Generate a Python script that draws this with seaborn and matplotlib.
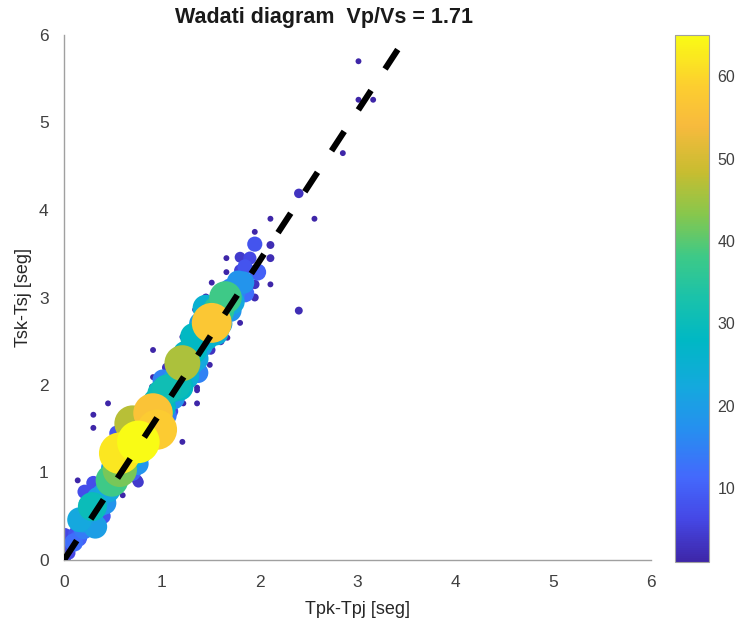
import numpy as np
import pandas as pd
import matplotlib
matplotlib.use("Agg")
import matplotlib.pyplot as plt
from matplotlib.colors import LinearSegmentedColormap, Normalize
from matplotlib.cm import ScalarMappable
import seaborn as sns

# Wadati pairs: S-S time difference vs P-P time difference, with how many
# station pairs fall on each point
tp_diff = [
    3.01, 3.01, 3.16, 2.85, 2.40, 2.11, 2.56, 1.95, 1.95, 2.11, 2.11, 1.80,
    2.11, 1.95, 1.95, 2.40, 1.83, 1.98, 1.66, 1.66, 1.80, 1.51, 1.65, 1.78,
    1.65, 1.58, 1.51, 1.34, 1.80, 1.33, 1.45, 1.67, 1.21, 1.21, 1.32, 1.49,
    0.91, 0.91, 1.36, 1.01, 1.37, 1.10, 0.76, 0.57, 0.91, 0.95, 0.70, 0.49,
    0.57, 0.29, 0.16, 0.32, 0.01, 0.06, 0.01, 0.21, 0.30, 0.76, 0.45, 0.30,
    0.30, 0.60, 0.14, 1.22, 1.21, 0.90, 1.36, 1.36, 0.54, 0.60, 0.47, 0.75,
    0.10, 0.20, 0.40, 0.38, 0.45, 0.65, 0.70, 0.85, 1.00, 1.05, 1.15, 1.25,
    1.30, 1.40, 1.45, 1.60, 1.70, 1.75, 1.85, 1.90, 0.25, 0.12, 0.05, 0.55,
    0.70, 0.40, 0.80, 1.10, 1.00, 0.20, 0.35, 0.50, 1.05, 1.50, 1.60, 0.85,
    1.15, 1.45, 1.55,
    0.95, 1.05, 1.12, 1.25, 1.35, 1.40, 1.55, 1.70, 1.72, 1.85, 0.35, 0.42,
    0.20, 0.15, 0.30, 0.60, 0.50, 0.75, 0.85, 0.70, 0.82, 1.05, 1.00, 1.12,
    1.18, 0.98,
]
ts_diff = [
    5.70, 5.26, 5.26, 4.65, 4.19, 3.90, 3.90, 3.75, 3.61, 3.60, 3.45, 3.46,
    3.15, 3.15, 3.00, 2.85, 3.17, 3.29, 3.45, 3.29, 3.31, 3.17, 3.09, 3.18,
    3.00, 2.85, 2.71, 2.86, 2.71, 2.55, 2.88, 2.54, 2.55, 2.25, 2.40, 2.23,
    2.40, 2.09, 1.97, 2.06, 2.14, 1.95, 1.35, 1.22, 1.68, 1.49, 1.56, 0.91,
    1.03, 0.61, 0.46, 0.38, 0.29, 0.15, 0.02, 0.78, 0.88, 0.89, 1.79, 1.66,
    1.51, 1.66, 0.91, 1.79, 1.35, 1.98, 1.94, 1.79, 1.45, 0.74, 0.69, 0.91,
    0.20, 0.35, 0.75, 0.62, 0.80, 1.10, 1.20, 1.45, 1.75, 1.85, 2.00, 2.10,
    2.25, 2.45, 2.55, 2.70, 2.85, 3.05, 3.35, 3.45, 0.55, 0.30, 0.08, 0.95,
    1.00, 0.50, 1.20, 1.70, 1.55, 0.65, 0.45, 1.10, 2.20, 2.40, 2.50, 1.75,
    2.35, 3.00, 2.95,
    1.80, 1.95, 1.85, 2.35, 2.30, 2.70, 2.60, 3.10, 2.95, 3.05, 0.70, 0.65,
    0.45, 0.25, 0.45, 1.15, 1.05, 1.10, 1.30, 1.45, 1.62, 1.65, 1.90, 2.05,
    1.98, 1.60,
]
n_pairs = [
    1, 1, 1, 1, 3, 1, 1, 1, 8, 2, 2, 4,
    1, 3, 2, 2, 18, 10, 1, 1, 5, 1, 10, 18,
    38, 35, 57, 1, 1, 28, 25, 1, 1, 46, 28, 1,
    1, 1, 1, 15, 15, 26, 65, 62, 56, 58, 47, 38,
    42, 30, 22, 20, 6, 6, 5, 7, 7, 4, 1, 1,
    1, 1, 1, 1, 1, 1, 1, 1, 8, 1, 2, 4,
    12, 14, 18, 15, 22, 20, 24, 25, 28, 18, 30, 24,
    22, 20, 26, 20, 18, 15, 8, 6, 16, 8, 6, 12,
    10, 8, 10, 6, 10, 3, 3, 2, 3, 3, 2, 3,
    2, 2, 3,
    29, 31, 18, 27, 22, 20, 24, 15, 22, 12, 20, 18,
    20, 10, 15, 26, 20, 18, 15, 22, 25, 14, 30, 20,
    28, 24,
]
vp_vs = 1.71
axis_ticks = [0, 1, 2, 3, 4, 5, 6]
cbar_ticks = [10, 20, 30, 40, 50, 60]

df = pd.DataFrame({"tp": tp_diff, "ts": ts_diff, "n": n_pairs})
df = df.sort_values("n", kind="stable")

parula = LinearSegmentedColormap.from_list("parula", [
    (0.00, (0.2422, 0.1504, 0.6603)),
    (0.08, (0.2700, 0.2800, 0.9000)),
    (0.16, (0.2650, 0.4100, 0.9900)),
    (0.25, (0.1500, 0.5600, 0.9400)),
    (0.33, (0.0800, 0.6600, 0.8700)),
    (0.42, (0.0000, 0.7200, 0.7700)),
    (0.50, (0.1000, 0.7600, 0.6700)),
    (0.58, (0.2400, 0.7900, 0.5300)),
    (0.66, (0.5300, 0.7800, 0.3000)),
    (0.74, (0.7800, 0.7400, 0.1900)),
    (0.83, (0.9700, 0.7300, 0.2400)),
    (0.90, (0.9900, 0.8000, 0.1900)),
    (1.00, (0.9769, 0.9839, 0.0805)),
])
vmin, vmax = 1, 65

sns.set_style("white")
plt.rcParams["font.family"] = ["Liberation Sans", "DejaVu Sans"]

fig = plt.figure(figsize=(7.36, 6.25), dpi=100)
ax = fig.add_axes([64 / 736, 65 / 625, 587 / 736, 525 / 625])
cax = fig.add_axes([675 / 736, 63 / 625, 34 / 736, 527 / 625])

sns.scatterplot(
    data=df, x="tp", y="ts", hue="n", size="n",
    palette=parula, hue_norm=(vmin, vmax),
    sizes=(18, 940), size_norm=(vmin, vmax),
    linewidth=0, alpha=1.0, legend=False, ax=ax, zorder=2,
)

# Fitted Wadati line through the origin
xl = np.array([0, 6 / vp_vs])
ax.plot(xl, vp_vs * xl, color="black", lw=4.4, ls=(0, (3.8, 4.2)),
        solid_capstyle="butt", dash_capstyle="butt", zorder=3)

ax.set_xlim(0, 6)
ax.set_ylim(0, 6)
ax.set_xticks(axis_ticks)
ax.set_yticks(axis_ticks)
ax.set_xlabel("Tpk-Tpj [seg]", fontsize=13, color="#262626", labelpad=8)
ax.set_ylabel("Tsk-Tsj [seg]", fontsize=13, color="#262626", labelpad=5)
fig.text(324 / 736, 1 - 17 / 625, "Wadati diagram  Vp/Vs = 1.71",
         fontsize=15.5, fontweight="bold", color="#1a1a1a",
         ha="center", va="center")
for side in ("top", "right"):
    ax.spines[side].set_visible(False)
for side in ("left", "bottom"):
    ax.spines[side].set_color("#a0a0a0")
    ax.spines[side].set_linewidth(1.0)
ax.tick_params(direction="in", length=5, width=0.8, colors="#a0a0a0",
               labelcolor="#404040", labelsize=12.5, pad=11)

sm = ScalarMappable(norm=Normalize(vmin, vmax), cmap=parula)
cb = fig.colorbar(sm, cax=cax, ticks=cbar_ticks)
cb.outline.set_edgecolor("#a0a0a0")
cb.outline.set_linewidth(0.8)
cax.tick_params(direction="in", length=4, colors="#404040",
                labelcolor="#404040", labelsize=11.5, pad=6)

fig.savefig("out.png", dpi=100)
